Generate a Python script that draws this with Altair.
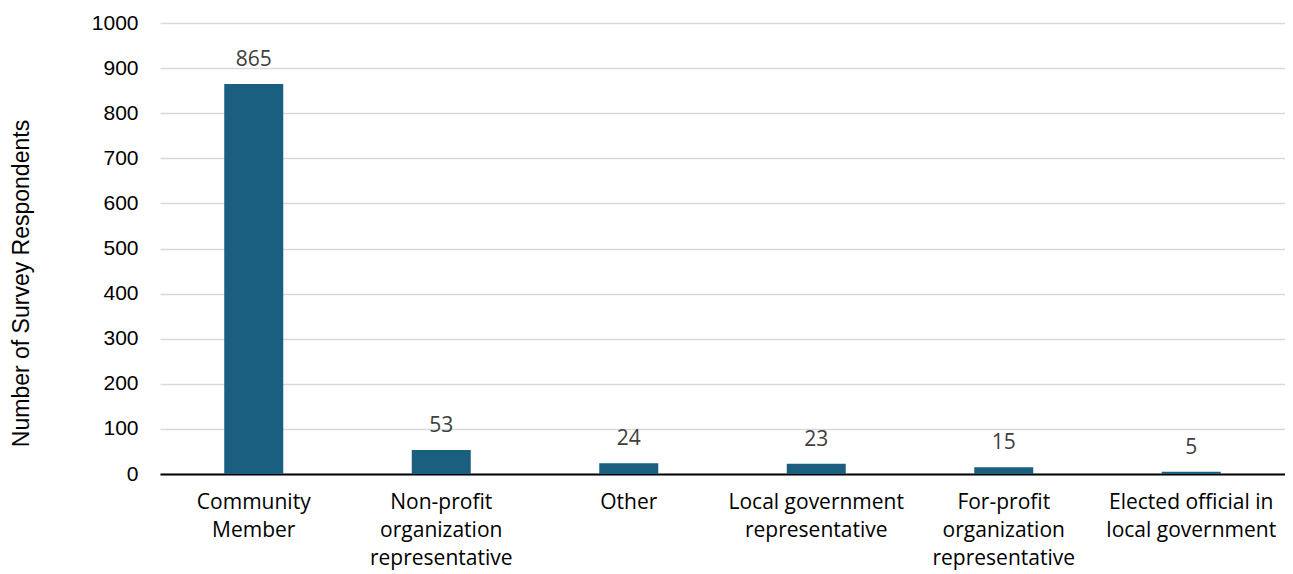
import altair as alt
import pandas as pd

categories = [
    "Community\nMember",
    "Non-profit\norganization\nrepresentative",
    "Other",
    "Local government\nrepresentative",
    "For-profit\norganization\nrepresentative",
    "Elected official in\nlocal government",
]
values = [865, 53, 24, 23, 15, 5]

df = pd.DataFrame({"category": categories, "value": values})

x = alt.X(
    "category:N",
    sort=categories,
    title=None,
    scale=alt.Scale(paddingInner=0, paddingOuter=0),
    axis=alt.Axis(
        labelExpr="split(datum.label, '\\n')",
        labelAngle=0,
        labelFont="Open Sans",
        labelFontSize=21,
        labelColor="#000000",
        labelLineHeight=28,
        labelPadding=17,
        labelBaseline="top",
        ticks=False,
        domainColor="#000000",
        domainWidth=2,
        grid=False,
    ),
)

y = alt.Y(
    "value:Q",
    title="Number of Survey Respondents",
    scale=alt.Scale(domain=[0, 1000], nice=False),
    axis=alt.Axis(
        values=list(range(0, 1001, 100)),
        format="d",
        labelFont="Liberation Sans",
        labelFontSize=21,
        labelColor="#000000",
        labelPadding=22,
        ticks=False,
        domain=False,
        gridColor="#d9d9d9",
        gridWidth=1.5,
        titleFont="Liberation Sans",
        titleFontSize=23,
        titleFontWeight="normal",
        titleColor="#000000",
        titlePadding=58,
        titleY=260,
    ),
)

base = alt.Chart(df)
bars = base.mark_bar(size=59, color="#1a5f80").encode(x=x, y=y)
text = base.mark_text(
    dy=-14, baseline="bottom", font="Open Sans", fontSize=21, color="#404040"
).encode(x=x, y=y, text="value:Q")

chart = (
    alt.layer(bars, text)
    .properties(
        width=1125,
        height=451,
        autosize=alt.AutoSizeParams(type="none"),
        padding={"left": 152, "top": 15, "right": 0, "bottom": 100},
        background="white",
    )
    .configure_view(stroke=None)
)

chart.save("out.html", embed_options={"renderer": "svg", "actions": False})
